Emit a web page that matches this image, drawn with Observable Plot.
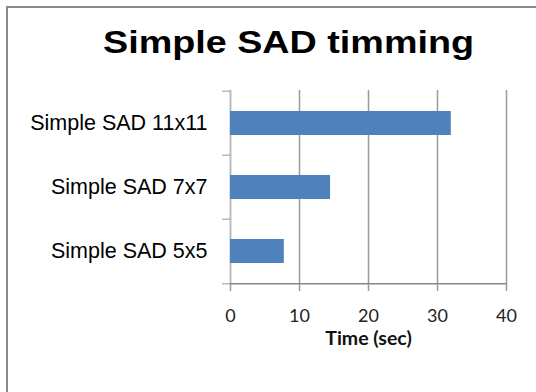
<!DOCTYPE html>
<html>
<head>
<meta charset="utf-8">
<script src="https://cdn.jsdelivr.net/npm/d3@7"></script>
<script src="https://cdn.jsdelivr.net/npm/@observablehq/plot@0.6"></script>
<style>
  html, body { margin: 0; padding: 0; background: #fff; }
  #wrap { position: relative; width: 536px; height: 392px; overflow: hidden; }
  #border { position: absolute; left: 6px; top: 6px; width: 600px; height: 500px;
            border-left: 2px solid #8a8a8a; border-top: 2px solid #8a8a8a; }
  #chart { position: absolute; left: 0; top: 0; }
</style>
</head>
<body>
<div id="wrap"><div id="border"></div><div id="chart"></div></div>
<script>
// Timing of the simple SAD variants, top to bottom
const title = "Simple SAD timming";
const categories = ["Simple SAD 11x11", "Simple SAD 7x7", "Simple SAD 5x5"];
const times = [32, 14.5, 7.8];
const xTicks = [0, 10, 20, 30, 40];
const xLabel = "Time (sec)";

const data = categories.map((c, i) => ({label: c, time: times[i]}));

const W = 536, H = 392;
const mTop = 90, mBottom = 108, mLeft = 230, mRight = 30;
const band = (H - mTop - mBottom) / categories.length;
const last = categories[categories.length - 1];

const chart = Plot.plot({
  width: W,
  height: H,
  marginTop: mTop,
  marginBottom: mBottom,
  marginLeft: mLeft,
  marginRight: mRight,
  style: {fontFamily: "'Liberation Sans', Arial, sans-serif", color: "#000", background: "transparent", overflow: "visible"},
  x: {domain: [0, 40]},
  y: {domain: categories, padding: 0},
  marks: [
    // vertical gridlines
    Plot.ruleX(xTicks.slice(1), {stroke: "#9a9a9a", strokeWidth: 1.5}),
    // value axis line at zero
    Plot.ruleX([0], {stroke: "#bcbcbc", strokeWidth: 2}),
    Plot.barX(data, {x: "time", y: "label", fill: "#4F81BD", insetTop: 20, insetBottom: 20}),
    // category axis baseline
    Plot.ruleY([last], {dy: band / 2, stroke: "#868686", strokeWidth: 1.5}),
    // x axis ticks and numbers
    Plot.axisX({
      ticks: xTicks, tickSize: 7, tickPadding: 18, stroke: "#9a9a9a", strokeWidth: 1.5,
      fontFamily: "Lato, 'Open Sans', sans-serif", fontSize: 18, fill: "#222",
      label: null
    }),
    // x axis title
    Plot.text([xLabel], {
      frameAnchor: "bottom", lineAnchor: "top", dy: 47,
      fontFamily: "Lato, 'Open Sans', sans-serif", fontWeight: "bold", fontSize: 19.5, fill: "#111"
    }),
    // category separators on the y axis
    Plot.axisY({tickSize: 8, tickFormat: () => "", dy: -band / 2, stroke: "#9a9a9a", label: null}),
    Plot.axisY([last], {tickSize: 8, tickFormat: () => "", dy: band / 2, stroke: "#9a9a9a", label: null}),
    // category labels
    Plot.axisY({tickSize: 0, tickPadding: 23, fontSize: 21.5, fill: "#000", label: null}),
    // chart title
    Plot.text([title], {
      frameAnchor: "top", lineAnchor: "bottom", dy: -38, dx: -80,
      fontSize: 31, fontWeight: "bold", fill: "#000", className: "chart-title"
    })
  ]
});

// widen the title to its set-width lettering
d3.select(chart).selectAll(".chart-title text")
  .attr("textLength", 371)
  .attr("lengthAdjust", "spacingAndGlyphs");

document.getElementById("chart").appendChild(chart);
</script>
</body>
</html>
